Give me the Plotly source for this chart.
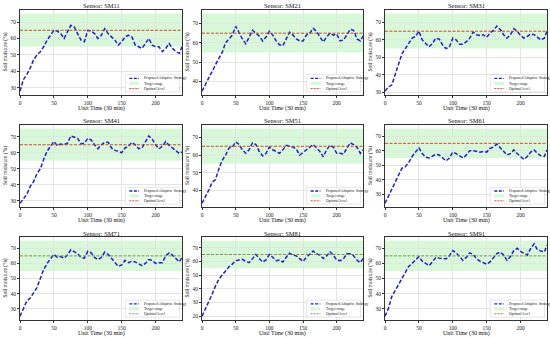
import plotly.graph_objects as go

W, H = 550, 338

SENSORS = ["SM11", "SM21", "SM31", "SM41", "SM51", "SM61", "SM71", "SM81", "SM91"]
TIME = list(range(0, 240, 5)) + [239]

SM11 = [28, 35, 38, 42, 47, 50, 52, 55, 59, 62, 65, 64.5, 63, 60, 64, 68, 67, 63, 59, 58,
        65, 64.5, 63, 60, 62, 66, 63, 61, 59, 56, 58, 61, 62, 61, 56, 55, 54, 57, 60, 56,
        55, 55, 52, 54, 57, 54, 52, 51, 55]
SM21 = [35, 38.5, 42, 45.5, 49, 52, 55, 60, 62, 64, 68.5, 65, 62, 59.5, 63, 66.5, 65, 63.5, 61, 63,
        66, 64, 61, 59, 58.5, 62, 65.5, 64, 62, 61, 61, 64, 65, 67.5, 66, 63, 60.5, 63, 65, 64,
        64.5, 61, 61.5, 64, 67, 66.5, 62, 61, 63.5]
SM31 = [30.5, 33, 34, 40, 47, 52, 55, 58, 61, 62, 65, 60, 58, 56, 58, 61, 60.5, 57, 55, 56,
        61, 60, 57.5, 57.5, 59, 61, 64.5, 63, 62.5, 63, 61.5, 64, 65.5, 68, 66, 63, 61, 63, 66.5, 65,
        62.5, 61, 62, 63.5, 63, 61.5, 60, 61, 65]
SM41 = [28.5, 31, 34, 39, 42, 47, 50, 56, 61, 64, 67, 64.5, 65.5, 65, 66, 70.5, 69.5, 69, 65.5, 66,
        69, 68, 65, 62.5, 65, 66.5, 66.5, 63, 61.5, 61, 60, 63, 64, 66.5, 65, 62.5, 63, 67, 70.5, 68.5,
        65, 62.5, 64, 67, 64.5, 63, 61.5, 59.5, 60.5]
SM51 = [32.5, 36, 40, 44.5, 46, 52, 57, 60, 64, 64.5, 67.5, 66, 63, 61, 63, 67, 66, 62, 59.5, 61,
        64.5, 63, 62, 61, 63, 65.5, 65, 64.5, 63.5, 60, 61.5, 63, 64, 66, 64, 62, 59, 63, 65.5, 64.5,
        61, 61, 60.5, 64, 67, 66, 64.5, 61, 63]
SM61 = [24, 29, 33, 38, 43, 48, 49, 52, 56, 59, 62, 58, 55.5, 55, 56, 57.5, 57, 55, 53, 55,
        59, 58, 56.5, 55, 57, 60, 60, 59.5, 59, 59.5, 59, 61.5, 62.5, 64.5, 62, 59, 57, 58, 60.5, 58,
        56, 54, 56, 59, 60.5, 58, 56.5, 56, 60.5]
SM71 = [25, 30, 35, 37, 41, 44, 50, 56, 60, 63, 66, 64, 64.5, 63.5, 65.5, 69, 68, 66.5, 64, 63.5,
        68, 67, 64, 62.5, 64, 67.5, 66, 63.5, 61, 58, 59, 62, 60.5, 61.5, 61, 60, 58.5, 60, 62.5, 62,
        60, 60.5, 60.5, 65, 67, 65.5, 63.5, 61, 64]
SM81 = [20, 25, 30, 36, 42, 47, 50, 53, 56, 58, 60.5, 61, 61.5, 60, 59, 62, 65, 62, 59.5, 61,
        65, 63, 60.5, 61, 59.5, 63, 66, 64.5, 64, 62, 60, 63, 65, 67.5, 65.5, 64.5, 62, 64, 67, 64.5,
        61, 60.5, 62, 65.5, 65.5, 64, 61, 59, 62]
SM91 = [25, 30, 38, 42, 46, 50, 54, 58, 60, 62.5, 64.5, 61.5, 60, 58.5, 61, 64, 63.5, 63, 63, 65,
        68.5, 67, 64.5, 62, 64, 67, 66, 63, 61.5, 60.5, 59.5, 61, 63.5, 66.5, 67.5, 65.5, 62, 64.5, 68.5, 70,
        68, 67, 65.5, 70, 73, 69, 68, 67.5, 72]
SERIES = [SM11, SM21, SM31, SM41, SM51, SM61, SM71, SM81, SM91]

TARGET_LOW, TARGET_HIGH = 55, 75
OPTIMAL = 65
X_TICKS = [0, 50, 100, 150, 200]

LEGEND_LABELS = ["Proposed Adaptive Strategy", "Target range", "Optimal level"]

FONT = "Liberation Serif, Times New Roman, serif"
BLUE = "#1f1fd0"
GREEN_FILL = "rgba(144,238,144,0.35)"
OPT_COLORS = ["#e8261e", "#e8261e", "#8a7a4e"]  # per row

# pixel layout
COLS = [(20, 182), (202, 363), (385, 547)]
ROWS = [(10, 95), (125, 207), (237, 320)]


def px_x(p):
    return p / W


def px_y(p):
    return 1 - p / H


fig = go.Figure()
layout = dict(
    width=W, height=H, margin=dict(l=0, r=0, t=0, b=0),
    paper_bgcolor="white", plot_bgcolor="white", showlegend=False,
    font=dict(family=FONT, color="#222"),
)
annotations = []
shapes = []

for i, (name, vals) in enumerate(zip(SENSORS, SERIES)):
    r, c = divmod(i, 3)
    k = "" if i == 0 else str(i + 1)
    xa, ya = "x" + k, "y" + k
    x0p, x1p = COLS[c]
    y0p, y1p = ROWS[r]
    lo = min(min(vals), TARGET_LOW)
    hi = max(max(vals), TARGET_HIGH)
    pad = 0.05 * (hi - lo)
    axis_common = dict(
        showline=True, linecolor="#333", linewidth=0.8, mirror=True,
        ticks="outside", ticklen=2, tickwidth=0.6, tickcolor="#333",
        showgrid=True, gridcolor="#e4e4e4", gridwidth=0.6,
        zeroline=False, tickfont=dict(family=FONT, size=5.5, color="#222"),
    )
    layout["xaxis" + k] = dict(
        domain=[px_x(x0p), px_x(x1p)], anchor=ya, range=[0, TIME[-1]],
        tickvals=X_TICKS, ticklabelstandoff=0, **axis_common)
    layout["yaxis" + k] = dict(
        domain=[px_y(y1p), px_y(y0p)], anchor=xa, range=[lo - pad, hi + pad],
        dtick=10, **axis_common)

    fig.add_trace(go.Scatter(
        x=TIME, y=vals, mode="lines", xaxis=xa, yaxis=ya, name=LEGEND_LABELS[0],
        line=dict(color=BLUE, width=1.5, dash="4px,2px"),
    ))
    opt_col = OPT_COLORS[r]
    fig.add_trace(go.Scatter(
        x=[0, TIME[-1]], y=[OPTIMAL, OPTIMAL], mode="lines", xaxis=xa, yaxis=ya,
        name=LEGEND_LABELS[2], line=dict(color=opt_col, width=0.9, dash="3px,1.5px"),
    ))
    shapes.append(dict(type="rect", xref=xa + " domain", yref=ya, x0=0, x1=1,
                       y0=TARGET_LOW, y1=TARGET_HIGH, fillcolor=GREEN_FILL,
                       line=dict(width=0), layer="below"))

    cx = px_x((x0p + x1p) / 2)
    annotations.append(dict(text="Sensor: " + name, xref="paper", yref="paper",
                            x=cx, y=px_y(y0p - 4), xanchor="center", yanchor="middle",
                            showarrow=False, font=dict(size=6.5, family=FONT, color="#111")))
    annotations.append(dict(text="Unit Time (30 min)", xref="paper", yref="paper",
                            x=cx, y=px_y(y1p + 13), xanchor="center", yanchor="middle",
                            showarrow=False, font=dict(size=6, family=FONT, color="#111")))
    annotations.append(dict(text="Soil moisture (%)", xref="paper", yref="paper",
                            x=px_x(x0p - 15), y=px_y((y0p + y1p) / 2), textangle=-90,
                            xanchor="center", yanchor="middle",
                            showarrow=False, font=dict(size=5.5, family=FONT, color="#111")))

    # legend box (lower right)
    dref_x, dref_y = xa + " domain", ya + " domain"
    bx0, bx1, by0, by1 = 0.65, 0.985, 0.035, 0.24
    shapes.append(dict(type="rect", xref=dref_x, yref=dref_y, x0=bx0, x1=bx1, y0=by0, y1=by1,
                       fillcolor="rgba(255,255,255,0.85)", line=dict(color="#cccccc", width=0.5)))
    rows_y = [0.195, 0.135, 0.075]
    sx0, sx1 = 0.675, 0.735
    shapes.append(dict(type="line", xref=dref_x, yref=dref_y, x0=sx0, x1=sx1,
                       y0=rows_y[0], y1=rows_y[0], line=dict(color=BLUE, width=1.3, dash="3px,1.5px")))
    shapes.append(dict(type="rect", xref=dref_x, yref=dref_y, x0=sx0, x1=sx1,
                       y0=rows_y[1] - 0.02, y1=rows_y[1] + 0.02, fillcolor=GREEN_FILL,
                       line=dict(width=0)))
    shapes.append(dict(type="line", xref=dref_x, yref=dref_y, x0=sx0, x1=sx1,
                       y0=rows_y[2], y1=rows_y[2], line=dict(color=opt_col, width=0.9, dash="2px,1px")))
    for lab, yy in zip(LEGEND_LABELS, rows_y):
        annotations.append(dict(text=lab, xref=dref_x, yref=dref_y, x=0.755, y=yy,
                                xanchor="left", yanchor="middle", showarrow=False,
                                font=dict(size=3.8, family=FONT, color="#222")))

layout["annotations"] = annotations
layout["shapes"] = shapes
fig.update_layout(**layout)
fig.write_html("out.html", config={"displayModeBar": False},
               post_script="document.body.style.margin='0px';document.body.style.overflow='hidden';")
